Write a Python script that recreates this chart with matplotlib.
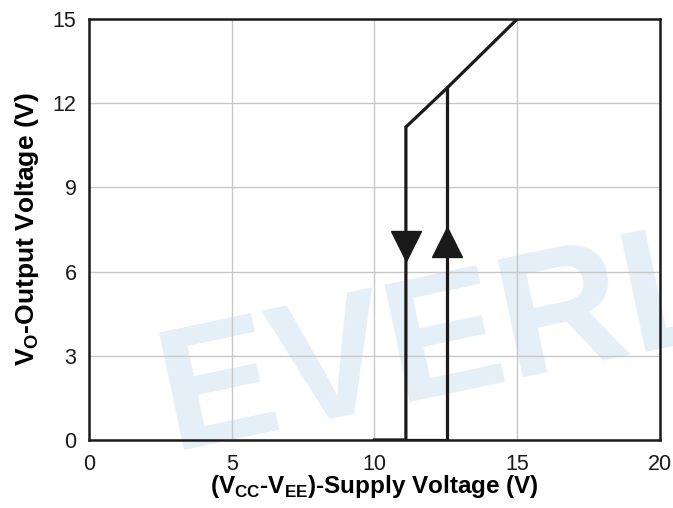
import matplotlib

matplotlib.use("Agg")
import matplotlib.pyplot as plt

plt.rcParams["font.family"] = ["Liberation Sans", "DejaVu Sans"]

# Hysteresis curve
down_x = [15.0, 12.55, 11.1, 11.1, 10.0]
down_y = [15.0, 12.55, 11.15, 0.0, 0.0]
up_x = [10.0, 12.55, 12.55]
up_y = [0.0, 0.0, 12.55]

# Direction arrows (x, y)
arrow_down = (11.1, 6.9)
arrow_up = (12.55, 7.05)

x_ticks = [0, 5, 10, 15, 20]
y_ticks = [0, 3, 6, 9, 12, 15]

fig = plt.figure(figsize=(6.73, 5.08), dpi=100)
ax = fig.add_axes([0.1322, 0.1339, 0.8485, 0.8287])

# watermark
ax.text(0.145, -0.025, "EVERLIGHT", transform=ax.transAxes, fontsize=125,
        fontweight="bold", color="#e5eff8", rotation=12,
        rotation_mode="anchor", ha="left", va="baseline",
        zorder=0.1, clip_on=False)

ax.plot(down_x, down_y, color="#1a1a1a", linewidth=2.3, zorder=3,
        solid_joinstyle="miter")
ax.plot(up_x, up_y, color="#1a1a1a", linewidth=2.3, zorder=3,
        solid_joinstyle="miter")
ax.plot(*arrow_down, marker="v", markersize=21, color="#1a1a1a", zorder=4)
ax.plot(*arrow_up, marker="^", markersize=21, color="#1a1a1a", zorder=4)

ax.set_xlim(0, 20)
ax.set_ylim(0, 15)
ax.set_xticks(x_ticks)
ax.set_yticks(y_ticks)
ax.tick_params(axis="both", length=0, labelsize=15.5, colors="#1a1a1a")
ax.tick_params(axis="x", pad=10)
ax.tick_params(axis="y", pad=9)
ax.grid(True, color="#c8c8c8", linewidth=1.0)
ax.set_axisbelow(True)
for s in ax.spines.values():
    s.set_linewidth(1.8)
    s.set_color("#1a1a1a")
    s.set_zorder(5)

ax.set_xlabel(r"(V$_{\mathregular{CC}}$-V$_{\mathregular{EE}}$)-Supply Voltage (V)",
              fontsize=17.5, fontweight="bold", labelpad=-1)
ax.set_ylabel(r"V$_{\mathregular{O}}$-Output Voltage (V)",
              fontsize=19, fontweight="bold", labelpad=8)

# title cut off at the top edge of the image
fig.text(0.55, 1.012, "Output Voltage vs. Supply Voltage", ha="center",
         va="baseline", fontsize=16, fontweight="bold", color="#555555")

plt.savefig("out.png", dpi=100)
plt.close()
